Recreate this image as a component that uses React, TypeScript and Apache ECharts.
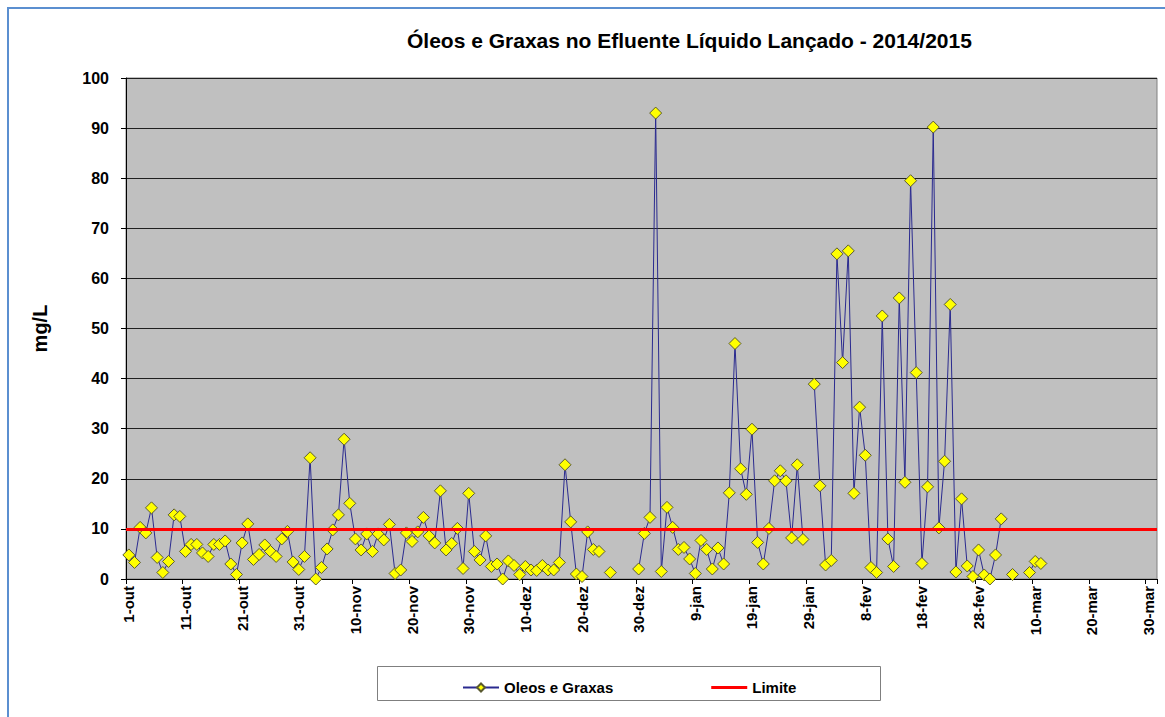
import React, { useEffect, useRef } from "react";
import * as echarts from "echarts";

const TITLE = "Óleos e Graxas no Efluente Líquido Lançado - 2014/2015";
const SERIES_NAME = "Oleos e Graxas";
const LIMIT_NAME = "Limite";
const LIMITE = 10;
const START = { year: 2014, month: 9, day: 1 }; // 1-out-2014
const N_DAYS = 182; // 1-out-2014 .. 31-mar-2015
const MONTHS_PT = ["jan", "fev", "mar", "abr", "mai", "jun", "jul", "ago", "set", "out", "nov", "dez"];

// Daily values (mg/L), index 0 = 1-out-2014; null = no measurement
const OLEOS_GRAXAS: (number | null)[] = [
  4.8, 3.3, 10.3, 9.2, 14.2, 4.3, 1.3, 3.5, 12.8, 12.5,
  5.5, 6.9, 6.9, 5.2, 4.5, 6.9, 6.9, 7.6, 3.0, 0.9,
  7.2, 11.0, 3.9, 4.9, 6.8, 5.5, 4.5, 8.0, 9.5, 3.4,
  1.9, 4.5, 24.2, 0.0, 2.3, 6.0, 9.8, 12.8, 27.9, 15.1,
  8.0, 5.8, 9.0, 5.5, 9.0, 7.8, 10.9, 1.1, 1.8, 9.2,
  7.5, 9.4, 12.3, 8.6, 7.2, 17.6, 5.8, 7.1, 10.1, 2.1,
  17.1, 5.5, 3.8, 8.6, 2.5, 3.0, 0.0, 3.6, 2.7, 0.9,
  2.5, 1.8, 1.7, 2.7, 1.8, 1.8, 3.3, 22.8, 11.4, 1.0,
  0.5, 9.4, 5.9, 5.5, null, 1.3, null, null, null, null,
  2.0, 9.1, 12.3, 93.0, 1.5, 14.3, 10.3, 5.9, 6.3, 4.0,
  1.1, 7.7, 5.9, 2.0, 6.2, 3.0, 17.2, 47.0, 22.0, 16.9,
  29.9, 7.3, 3.0, 10.1, 19.6, 21.6, 19.6, 8.2, 22.8, 7.9,
  null, 38.9, 18.6, 2.8, 3.7, 64.9, 43.2, 65.5, 17.1, 34.3,
  24.7, 2.3, 1.3, 52.5, 8.0, 2.5, 56.1, 19.3, 79.5, 41.2,
  3.1, 18.4, 90.2, 10.2, 23.5, 54.8, 1.4, 16.0, 2.6, 0.5,
  5.8, 0.8, 0.0, 4.8, 12.0, null, 0.9, null, null, 1.3,
  3.5, 3.1,
];

function buildCategories(): string[] {
  const out: string[] = [];
  for (let i = 0; i < N_DAYS; i++) {
    const d = new Date(Date.UTC(START.year, START.month, START.day + i));
    out.push(`${d.getUTCDate()}-${MONTHS_PT[d.getUTCMonth()]}`);
  }
  return out;
}

const CATEGORIES = buildCategories();
const FONT = "Arial, 'Liberation Sans', Helvetica, sans-serif";

export default function App() {
  const ref = useRef<HTMLDivElement>(null);

  useEffect(() => {
    if (!ref.current) return;
    const chart = echarts.init(ref.current, null, { renderer: "svg" });
    const data = CATEGORIES.map((_, i) => (i < OLEOS_GRAXAS.length ? OLEOS_GRAXAS[i] : null));
    chart.setOption({
      animation: false,
      backgroundColor: "#ffffff",
      textStyle: { fontFamily: FONT },
      title: {
        text: TITLE,
        left: 402,
        top: 25,
        textStyle: { fontSize: 21, fontWeight: "bold", color: "#000", fontFamily: FONT },
      },
      graphic: [
        {
          type: "rect",
          z: -10,
          shape: { x: 8, y: 8, width: 1300, height: 900 },
          style: { fill: "none", stroke: "#5b8fd0", lineWidth: 2 },
        },
        {
          type: "rect",
          z: 0,
          shape: { x: 377.5, y: 666.5, width: 503, height: 34 },
          style: { fill: "#ffffff", stroke: "#7f7f7f", lineWidth: 1 },
        },
      ],
      legend: {
        left: 457,
        top: 675,
        z: 10,
        itemGap: 98,
        itemWidth: 36,
        itemHeight: 10,
        textStyle: { fontSize: 15, fontWeight: "bold", color: "#000", fontFamily: FONT },
        data: [
          { name: SERIES_NAME },
          { name: LIMIT_NAME, icon: "path://M0,0H36V3H0Z", itemStyle: { color: "#ff0000" } },
        ],
      },
      grid: {
        left: 126,
        top: 78,
        right: 8,
        bottom: 138,
        show: true,
        backgroundColor: "#c0c0c0",
        borderColor: "#808080",
        borderWidth: 1,
      },
      xAxis: {
        type: "category",
        data: CATEGORIES,
        boundaryGap: true,
        axisLine: { show: true, lineStyle: { color: "#000", width: 1 } },
        axisTick: { show: true, interval: 9, alignWithLabel: false, length: 5, lineStyle: { color: "#000" } },
        axisLabel: {
          interval: 9,
          rotate: 90,
          margin: 7,
          fontSize: 15,
          fontWeight: "bold",
          color: "#000",
          fontFamily: FONT,
        },
        splitLine: { show: false },
      },
      yAxis: {
        type: "value",
        min: 0,
        max: 100,
        interval: 10,
        name: "mg/L",
        nameLocation: "middle",
        nameRotate: 90,
        nameGap: 76,
        nameTextStyle: { fontSize: 20, fontWeight: "bold", color: "#000", fontFamily: FONT },
        axisLine: { show: true, lineStyle: { color: "#000", width: 1 } },
        axisTick: { show: true, length: 5, lineStyle: { color: "#000" } },
        axisLabel: { fontSize: 16, fontWeight: "bold", color: "#000", margin: 17, fontFamily: FONT },
        splitLine: { show: true, lineStyle: { color: "#202020", width: 1 } },
      },
      series: [
        {
          name: SERIES_NAME,
          type: "line",
          data,
          connectNulls: false,
          symbol: "diamond",
          symbolSize: [12, 12],
          showAllSymbol: true,
          lineStyle: { color: "#2a2a8f", width: 1 },
          itemStyle: { color: "#ffff00", borderColor: "#5a5a30", borderWidth: 1 },
          z: 3,
        },
        {
          name: LIMIT_NAME,
          type: "line",
          data: [],
          symbol: "none",
          lineStyle: { color: "#ff0000", width: 3 },
          itemStyle: { color: "#ff0000" },
          z: 2,
          markLine: {
            silent: true,
            symbol: ["none", "none"],
            label: { show: false },
            lineStyle: { color: "#ff0000", width: 3, type: "solid" },
            data: [{ yAxis: LIMITE }],
          },
        },
      ],
    });
    return () => chart.dispose();
  }, []);

  return (
    <div
      ref={ref}
      style={{ position: "absolute", left: 0, top: 0, width: 1165, height: 717 }}
    />
  );
}
